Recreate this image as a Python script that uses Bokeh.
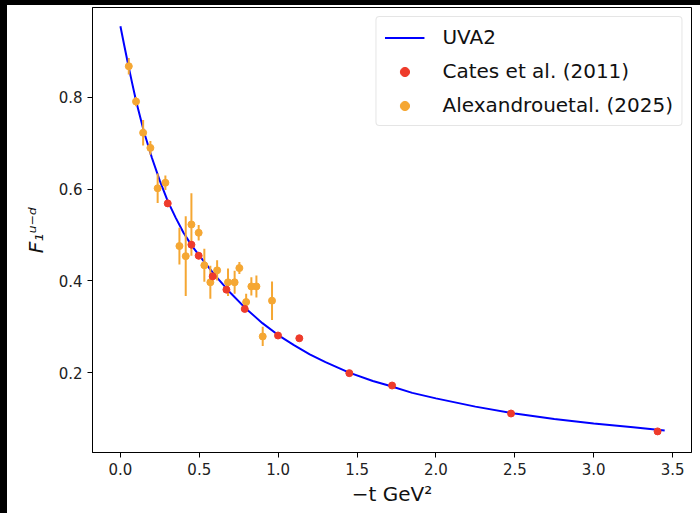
import numpy as np
from bokeh.plotting import figure
from bokeh.models import Range1d, FixedTicker, Legend, LegendItem, Spacer
from bokeh.layouts import column, row
from bokeh.embed import file_html
from bokeh.resources import INLINE

# ---- data ----
uva2_t = [0.0, 0.025, 0.05, 0.075, 0.1, 0.15, 0.2, 0.25, 0.3, 0.35, 0.4, 0.45, 0.5, 0.6, 0.7,
          0.8, 0.9, 1.0, 1.1, 1.2, 1.3, 1.45, 1.6, 1.7, 1.85, 2.0, 2.25, 2.5, 2.75, 3.0, 3.25, 3.45]
uva2_f = [0.955, 0.912, 0.870, 0.830, 0.791, 0.724, 0.668, 0.618, 0.574, 0.538, 0.505, 0.478, 0.455,
          0.412, 0.373, 0.338, 0.308, 0.282, 0.260, 0.240, 0.223, 0.200, 0.182, 0.172, 0.156, 0.144,
          0.126, 0.111, 0.099, 0.089, 0.081, 0.074]

cates_t = [0.300, 0.450, 0.496, 0.585, 0.672, 0.788, 0.999, 1.134, 1.451, 1.722, 2.476, 3.405]
cates_f = [0.569, 0.479, 0.455, 0.410, 0.381, 0.339, 0.281, 0.275, 0.199, 0.172, 0.111, 0.072]
cates_err = [0.008, 0.008, 0.008, 0.007, 0.007, 0.007, 0.005, 0.004, 0.003, 0.003, 0.003, 0.003]

alex_t = [0.053, 0.099, 0.144, 0.190, 0.236, 0.285, 0.374, 0.414, 0.450, 0.496, 0.532,
          0.570, 0.613, 0.682, 0.724, 0.754, 0.797, 0.830, 0.862, 0.902, 0.961]
alex_f = [0.868, 0.791, 0.723, 0.690, 0.602, 0.614, 0.476, 0.454, 0.523, 0.505, 0.434,
          0.397, 0.423, 0.397, 0.397, 0.428, 0.354, 0.388, 0.388, 0.279, 0.357]
alex_err = [0.018, 0.010, 0.028, 0.015, 0.032, 0.016, 0.040, 0.087, 0.068, 0.017, 0.036,
            0.036, 0.022, 0.030, 0.025, 0.013, 0.018, 0.020, 0.024, 0.021, 0.042]

x_ticks = [0.0, 0.5, 1.0, 1.5, 2.0, 2.5, 3.0, 3.5]
x_tick_labels = ["0.0", "0.5", "1.0", "1.5", "2.0", "2.5", "3.0", "3.5"]
y_ticks = [0.2, 0.4, 0.6, 0.8]
y_tick_labels = ["0.2", "0.4", "0.6", "0.8"]

RED = "#ee3b2b"
ORANGE = "#f5a733"
FONT = "DejaVu Sans"

p = figure(width=693, height=508,
           x_range=Range1d(-0.177, 3.62), y_range=Range1d(0.026, 0.996),
           output_backend="svg", toolbar_location=None,
           min_border_left=85, min_border_right=9, min_border_top=2, min_border_bottom=61)

p.xgrid.visible = False
p.ygrid.visible = False
p.outline_line_color = "black"
p.outline_line_width = 1
p.outline_line_alpha = 1.0
p.background_fill_color = "white"
p.border_fill_color = "white"

for ax in (p.xaxis[0], p.yaxis[0]):
    ax.axis_line_color = "black"
    ax.major_tick_line_color = "black"
    ax.major_tick_out = 5
    ax.major_tick_in = 0
    ax.minor_tick_line_color = None
    ax.major_label_text_font = FONT
    ax.major_label_text_font_size = "15px"
    ax.major_label_text_color = "#222222"
    ax.axis_label_text_font = FONT
    ax.axis_label_text_font_size = "20px"
    ax.axis_label_text_color = "#111111"

p.xaxis.ticker = FixedTicker(ticks=x_ticks)
p.xaxis.major_label_overrides = dict(zip(x_ticks, x_tick_labels))
p.yaxis.ticker = FixedTicker(ticks=y_ticks)
p.yaxis.major_label_overrides = dict(zip(y_ticks, y_tick_labels))

p.xaxis.axis_label = "\u2212t GeV\u00b2"
p.xaxis.axis_label_text_font_style = "normal"
p.xaxis.axis_label_standoff = 4
p.yaxis.axis_label = "F\u2081\u1d58\u207b\u1d48"
p.yaxis.axis_label_text_font_style = "italic"
p.yaxis.axis_label_standoff = 8

# UVA2 curve
line_r = p.line(uva2_t, uva2_f, line_color="blue", line_width=2)

# Alexandrou et al. (2025)
at = np.array(alex_t); af = np.array(alex_f); ae = np.array(alex_err)
alex_seg = p.segment(x0=at, y0=af - ae, x1=at, y1=af + ae, line_color=ORANGE, line_width=2)
alex_pts = p.scatter(at, af, size=7, fill_color=ORANGE, line_color=ORANGE)

# Cates et al. (2011)
ct = np.array(cates_t); cf = np.array(cates_f); ce = np.array(cates_err)
cates_seg = p.segment(x0=ct, y0=cf - ce, x1=ct, y1=cf + ce, line_color=RED, line_width=2)
cates_pts = p.scatter(ct, cf, size=7, fill_color=RED, line_color=RED)

legend = Legend(items=[
    LegendItem(label="UVA2", renderers=[line_r]),
    LegendItem(label="Cates et al. (2011)", renderers=[cates_pts]),
    LegendItem(label="Alexandrouetal. (2025)", renderers=[alex_pts]),
], location="top_right")
legend.margin = 9
legend.padding = 8
legend.spacing = 10
legend.glyph_width = 40
legend.glyph_height = 23
legend.label_height = 23
legend.label_standoff = 18
legend.label_text_font = FONT
legend.label_text_font_size = "20px"
legend.label_text_color = "#111111"
legend.border_line_color = "#cccccc"
legend.border_line_width = 1
legend.background_fill_color = "white"
legend.background_fill_alpha = 0.85
if "border_radius" in Legend.properties():
    legend.border_radius = 4
p.add_layout(legend)

top_bar = Spacer(width=700, height=5, styles={"background-color": "black"})
left_bar = Spacer(width=7, height=508, styles={"background-color": "black"})
layout = column(top_bar, row(left_bar, p, spacing=0), spacing=0)

open("out.html", "w").write(file_html(layout, INLINE))
